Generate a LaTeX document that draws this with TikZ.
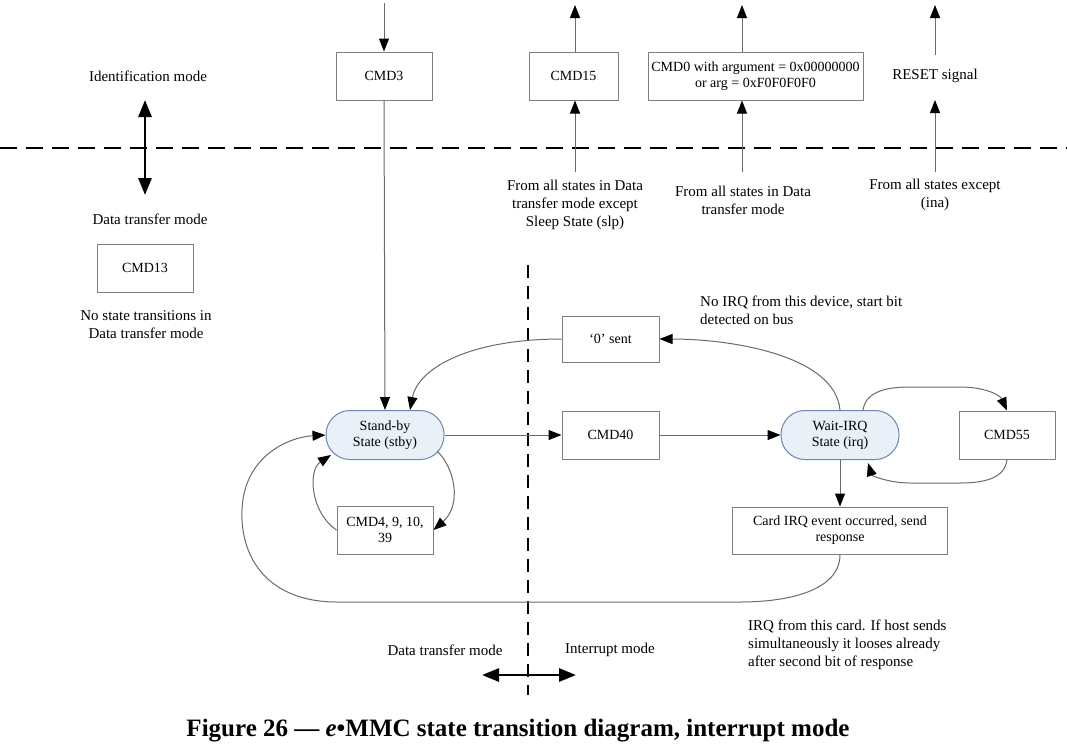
\documentclass[tikz,border=0pt]{standalone}
\usepackage{fontspec}
\setmainfont{Liberation Serif}
\usetikzlibrary{arrows.meta}
\definecolor{boxgray}{HTML}{7F7F7F}
\definecolor{linegray}{HTML}{6A6A6A}
\definecolor{stateborder}{HTML}{6D87B0}
\definecolor{statefill}{HTML}{EAF0F8}
\tikzset{
  boxfont/.style={font=\fontsize{14}{16}\selectfont},
  lblfont/.style={font=\fontsize{15}{18}\selectfont},
  box/.style={draw=boxgray, line width=1pt, minimum height=48pt, inner sep=0pt, align=center, boxfont},
  statebox/.style={draw=stateborder, fill=statefill, line width=1pt, rounded corners=24pt, minimum width=118pt, minimum height=49pt, inner sep=0pt, align=center, boxfont},
  conn/.style={draw=linegray, line width=1pt, -{Triangle[length=13pt,width=10pt,color=black]}},
  lbl/.style={align=center, inner sep=0pt, lblfont},
  lbll/.style={align=left, inner sep=0pt, lblfont, anchor=west},
  bigdbl/.style={line width=2.8pt, {Triangle[length=17pt,width=13pt]}-{Triangle[length=17pt,width=13pt]}},
  divider/.style={line width=2pt, dash pattern=on 17pt off 9pt},
  vdivider/.style={line width=2pt, dash pattern=on 13pt off 8pt},
}
\begin{document}
\begin{tikzpicture}[x=1pt,y=-1pt]
\useasboundingbox (0,0) rectangle (1067,748);
\fill[white] (0,0) rectangle (1067,748);

% dividers
\draw[divider] (0,148) -- (1067,148);
\draw[vdivider] (528,265) -- (528,695);

% top labels
\node[lbl] (idmode) at (148,76) {Identification mode};
\node[lbl] (dtmode) at (150,219) {Data transfer mode};
\coordinate (dblA) at (145,100);
\coordinate (dblB) at (145,195);
\draw[bigdbl] (dblA) -- (dblB);

\node[box, minimum width=96pt] (cmd13) at (145,268) {CMD13};
\node[lbl] (nost) at (146,325) {No state transitions in\\Data transfer mode};

% top boxes
\node[box, minimum width=96pt] (cmd3) at (384,76) {CMD3};
\node[box, minimum width=89pt] (cmd15) at (573.5,76) {CMD15};
\node[box, minimum width=215pt] (cmd0) at (755.5,76) {CMD0 with argument = 0x00000000\\or arg = 0xF0F0F0F0};
\node[lbl] (reset) at (935,76) {RESET signal};

\coordinate (cmd3in) at (384,3);
\coordinate (cmd15out) at (575,5);
\coordinate (cmd15in) at (575,172);
\coordinate (cmd0out) at (742,5);
\coordinate (cmd0in) at (742,172);
\coordinate (resetout) at (935,5);
\coordinate (resettop) at (935,55);
\coordinate (resetin) at (935,172);
\coordinate (resetbot) at (935,100);

\draw[conn] (cmd3in) -- (cmd3.north);
\draw[conn] (cmd15.north -| cmd15out) -- (cmd15out);
\draw[conn] (cmd15in) -- (cmd15.south -| cmd15in);
\draw[conn] (cmd0.north -| cmd0out) -- (cmd0out);
\draw[conn] (cmd0in) -- (cmd0.south -| cmd0in);
\draw[conn] (resettop) -- (resetout);
\draw[conn] (resetin) -- (resetbot);

\node[lbl] (fromA) at (575,205) {From all states in Data\\transfer mode except\\Sleep State (slp)};
\node[lbl] (fromB) at (743,200) {From all states in Data\\transfer mode};
\node[lbl] (fromC) at (935,195) {From all states except\\(ina)};

% lower part
\node[statebox] (stby) at (385,435) {Stand-by\\State (stby)};
\node[box, minimum width=97pt] (cmd40) at (610.5,435) {CMD40};
\node[statebox] (irq) at (840,435) {Wait-IRQ\\State (irq)};
\node[box, minimum width=96pt] (cmd55) at (1007,435) {CMD55};
\node[box, minimum width=97pt, minimum height=46pt] (sent0) at (610.5,339) {`0' sent};
\node[box, minimum width=96pt] (cmd4) at (385,530) {CMD4, 9, 10,\\39};
\node[box, minimum width=215pt, minimum height=47pt] (card) at (840,530.5) {Card IRQ event occurred, send\\response};

\node[lbll] (noirq) at (700,310) {No IRQ from this device, start bit\\detected on bus};
\node[lbll] (irqcard) at (748,645) {IRQ from this card. If host sends\\simultaneously it looses already\\after second bit of response};
\node[lbl] (dtm2) at (445,650) {Data transfer mode};
\node[lbl] (intm) at (610,650) {Interrupt mode};
\coordinate (hA) at (482,675);
\coordinate (hB) at (576,675);
\draw[bigdbl] (hA) -- (hB);

% connectors
\draw[conn] (cmd3.south) -- (stby.north);
\draw[conn] (stby.east) -- (cmd40.west);
\draw[conn] (cmd40.east) -- (irq.west);
\draw[conn] (irq.south) -- (card.north);
\draw[conn] (sent0.west) .. controls (470,339) and (418,368) .. ([xshift=25pt]stby.north);
\draw[conn] (irq.north) .. controls (835,355) and (730,339) .. (sent0.east);
\draw[conn] ([xshift=23pt]irq.north) .. controls (866,390) and (890,387) .. (910,387) -- (960,387) .. controls (985,387) and (1000,395) .. (cmd55.north);
\draw[conn] (cmd55.south) .. controls (1005,478) and (985,483) .. (960,483) -- (910,483) .. controls (890,483) and (872,476) .. ([xshift=28pt,yshift=-3pt]irq.south);
\draw[conn] (card.south) .. controls (840,590) and (790,602) .. (740,602) -- (337,602) .. controls (270,602) and (240,560) .. (242,510) .. controls (244,455) and (290,437) .. (stby.west);
\draw[conn] ([xshift=52pt,yshift=-16pt]stby.center) .. controls (455,468) and (462,505) .. (cmd4.east);
\draw[conn] (cmd4.west) .. controls (310,512) and (308,470) .. ([xshift=-54pt,yshift=-20pt]stby.center);

% caption
\node[inner sep=0pt, font=\fontsize{25}{30}\selectfont\bfseries] (caption) at (518,731) {Figure 26 — \textit{e}•MMC state transition diagram, interrupt mode};
\end{tikzpicture}
\end{document}
